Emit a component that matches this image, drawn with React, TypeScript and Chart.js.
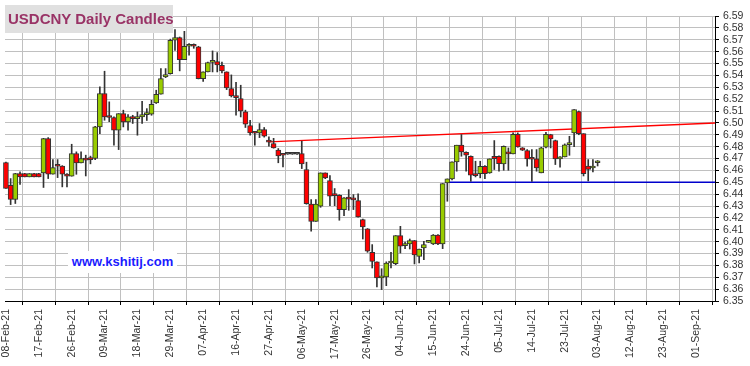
import React, { useEffect, useRef } from "react";
import { Chart, registerables } from "chart.js";

Chart.register(...registerables);

// Weekday tick labels, one every 7 trading days starting at index 0
const tickLabels = [
  "08-Feb-21", "17-Feb-21", "26-Feb-21", "09-Mar-21", "18-Mar-21", "29-Mar-21",
  "07-Apr-21", "16-Apr-21", "27-Apr-21", "06-May-21", "17-May-21", "26-May-21",
  "04-Jun-21", "15-Jun-21", "24-Jun-21", "05-Jul-21", "14-Jul-21", "23-Jul-21",
  "03-Aug-21", "12-Aug-21", "23-Aug-21", "01-Sep-21",
];
const tickEvery = 7;

const opens = [
  6.4666, 6.4475, 6.4355, 6.4573, 6.4573, 6.4545, 6.4573, 6.4573, 6.4578, 6.4868,
  6.4567, 6.4638, 6.4637, 6.4556, 6.4551, 6.4742, 6.4663, 6.4700, 6.4692, 6.4700,
  6.4966, 6.5247, 6.5050, 6.5045, 6.4938, 6.5078, 6.5008, 6.5050, 6.5036, 6.5050,
  6.5070, 6.5073, 6.5168, 6.5241, 6.5387, 6.5415, 6.5696, 6.5718, 6.5533, 6.5645,
  6.5648, 6.5640, 6.5373, 6.5429, 6.5510, 6.5516, 6.5485, 6.5429, 6.5289, 6.5221,
  6.5205, 6.5093, 6.4978, 6.4918, 6.4916, 6.4944, 6.4840, 6.4826, 6.4770, 6.4730,
  6.4736, 6.4736, 6.4736, 6.4742, 6.4607, 6.4317, 6.4171, 6.4298, 6.4579, 6.4514,
  6.4392, 6.4390, 6.4270, 6.4362, 6.4356, 6.4345, 6.4185, 6.4107, 6.3910, 6.3829,
  6.3694, 6.3702, 6.3820, 6.3815, 6.4051, 6.3966, 6.3980, 6.4008, 6.3876, 6.3947,
  6.3994, 6.3980, 6.4056, 6.3980, 6.4494, 6.4528, 6.4671, 6.4812, 6.4753, 6.4719,
  6.4559, 6.4573, 6.4635, 6.4579, 6.4719, 6.4719, 6.4654, 6.4756, 6.4739, 6.4904,
  6.4789, 6.4767, 6.4697, 6.4697, 6.4579, 6.4795, 6.4902, 6.4851, 6.4697, 6.4713,
  6.4817, 6.4915, 6.5095, 6.4909, 6.4637, 6.4620, 6.4664,
];
const highs = [
  6.4670, 6.4531, 6.4575, 6.4587, 6.4575, 6.4573, 6.4575, 6.4575, 6.4870, 6.4876,
  6.4691, 6.4691, 6.4640, 6.4573, 6.4820, 6.4756, 6.4756, 6.4728, 6.4720, 6.4970,
  6.5303, 6.5435, 6.5177, 6.5050, 6.5078, 6.5107, 6.5070, 6.5064, 6.5092, 6.5182,
  6.5120, 6.5190, 6.5275, 6.5457, 6.5457, 6.5705, 6.5785, 6.5723, 6.5771, 6.5668,
  6.5665, 6.5645, 6.5429, 6.5513, 6.5606, 6.5592, 6.5513, 6.5430, 6.5404, 6.5342,
  6.5317, 6.5107, 6.5022, 6.4924, 6.4994, 6.4961, 6.4882, 6.4870, 6.4784, 6.4733,
  6.4737, 6.4737, 6.4737, 6.4846, 6.4669, 6.4354, 6.4354, 6.4579, 6.4579, 6.4556,
  6.4447, 6.4395, 6.4370, 6.4438, 6.4396, 6.4402, 6.4190, 6.4110, 6.3975, 6.3829,
  6.3772, 6.3830, 6.3910, 6.4051, 6.4129, 6.3997, 6.4022, 6.4010, 6.3938, 6.4003,
  6.3997, 6.4060, 6.4060, 6.4489, 6.4528, 6.4671, 6.4812, 6.4902, 6.4756, 6.4722,
  6.4677, 6.4677, 6.4640, 6.4697, 6.4851, 6.4722, 6.4806, 6.4789, 6.4916, 6.4916,
  6.4792, 6.4775, 6.4775, 6.4775, 6.4795, 6.4921, 6.4904, 6.4855, 6.4716, 6.4823,
  6.4887, 6.5112, 6.5100, 6.4909, 6.4691, 6.4691, 6.4683,
];
const lows = [
  6.4447, 6.4312, 6.4321, 6.4481, 6.4545, 6.4545, 6.4545, 6.4545, 6.4456, 6.4531,
  6.4567, 6.4539, 6.4461, 6.4461, 6.4551, 6.4567, 6.4663, 6.4553, 6.4655, 6.4690,
  6.4910, 6.5022, 6.5010, 6.4812, 6.4775, 6.4966, 6.4938, 6.4995, 6.4896, 6.4995,
  6.5020, 6.5064, 6.5163, 6.5241, 6.5381, 6.5410, 6.5611, 6.5438, 6.5533, 6.5570,
  6.5628, 6.5370, 6.5350, 6.5429, 6.5429, 6.5429, 6.5421, 6.5280, 6.5218, 6.5064,
  6.5050, 6.4961, 6.4896, 6.4812, 6.4876, 6.4880, 6.4803, 6.4787, 6.4664, 6.4629,
  6.4735, 6.4735, 6.4735, 6.4615, 6.4315, 6.4087, 6.4171, 6.4289, 6.4530, 6.4303,
  6.4303, 6.4180, 6.4219, 6.4264, 6.4270, 6.4205, 6.4022, 6.3910, 6.3778, 6.3618,
  6.3596, 6.3629, 6.3778, 6.3806, 6.3904, 6.3941, 6.3938, 6.3812, 6.3820, 6.3848,
  6.3992, 6.3975, 6.3975, 6.3941, 6.4340, 6.4520, 6.4593, 6.4719, 6.4593, 6.4508,
  6.4545, 6.4537, 6.4531, 6.4575, 6.4607, 6.4593, 6.4601, 6.4601, 6.4739, 6.4795,
  6.4767, 6.4635, 6.4508, 6.4593, 6.4579, 6.4789, 6.4789, 6.4649, 6.4626, 6.4713,
  6.4727, 6.4800, 6.4900, 6.4553, 6.4511, 6.4587, 6.4637,
];
const closes = [
  6.4447, 6.4355, 6.4573, 6.4545, 6.4545, 6.4573, 6.4545, 6.4545, 6.4868, 6.4567,
  6.4623, 6.4635, 6.4567, 6.4551, 6.4742, 6.4663, 6.4700, 6.4686, 6.4690, 6.4966,
  6.5247, 6.5050, 6.5045, 6.4938, 6.5078, 6.5008, 6.5050, 6.5036, 6.5050, 6.5070,
  6.5072, 6.5157, 6.5241, 6.5373, 6.5407, 6.5696, 6.5718, 6.5533, 6.5645, 6.5648,
  6.5645, 6.5373, 6.5429, 6.5508, 6.5513, 6.5488, 6.5437, 6.5294, 6.5227, 6.5213,
  6.5101, 6.4989, 6.4916, 6.4913, 6.4944, 6.4888, 6.4838, 6.4789, 6.4722, 6.4727,
  6.4736, 6.4736, 6.4736, 6.4654, 6.4320, 6.4171, 6.4317, 6.4579, 6.4537, 6.4382,
  6.4388, 6.4270, 6.4368, 6.4358, 6.4352, 6.4208, 6.4124, 6.3919, 6.3834, 6.3694,
  6.3713, 6.3820, 6.3823, 6.4051, 6.3961, 6.3969, 6.4008, 6.3888, 6.3938, 6.3975,
  6.3995, 6.4056, 6.3980, 6.4489, 6.4528, 6.4671, 6.4812, 6.4756, 6.4728, 6.4559,
  6.4556, 6.4635, 6.4573, 6.4697, 6.4699, 6.4657, 6.4803, 6.4739, 6.4904, 6.4798,
  6.4770, 6.4697, 6.4694, 6.4621, 6.4789, 6.4904, 6.4865, 6.4697, 6.4713, 6.4815,
  6.4831, 6.5112, 6.4909, 6.4573, 6.4609, 6.4623, 6.4666,
];

// Red rising trend line and horizontal support line (x = trading-day index)
const trendX = [56, 151];
const trendY = [6.484, 6.5];
const supportX = [94, 151];
const supportY = [6.45, 6.45];

const yTicks = [
  6.35, 6.36, 6.37, 6.38, 6.39, 6.4, 6.41, 6.42, 6.43, 6.44, 6.45, 6.46, 6.47,
  6.48, 6.49, 6.5, 6.51, 6.52, 6.53, 6.54, 6.55, 6.56, 6.57, 6.58, 6.59,
];

const X_MIN = -0.2;
const X_MAX = 151;

const UP = "#99cc00";
const DOWN = "#ff0000";
const EDGE = "#333333";
const GRID = "#c0c0c0";
const FONT = "'Liberation Sans', Arial, sans-serif";

export default function App() {
  const ref = useRef<HTMLCanvasElement | null>(null);

  useEffect(() => {
    if (!ref.current) return;
    const idx = opens.map((_, i) => i);
    const bodies = idx.map((i) => ({ x: i, y: [opens[i], closes[i]] }));
    const wicks = idx.map((i) => ({ x: i, y: [lows[i], highs[i]] }));
    const fills = idx.map((i) =>
      closes[i] > opens[i] ? UP : closes[i] < opens[i] ? DOWN : EDGE
    );

    const chart = new Chart(ref.current, {
      type: "bar",
      data: {
        datasets: [
          {
            type: "bar",
            data: bodies as any,
            backgroundColor: fills,
            borderColor: EDGE,
            borderWidth: 1,
            borderSkipped: false,
            barThickness: 5,
            minBarLength: 2,
            grouped: false,
            clip: false as any,
          },
          {
            type: "bar",
            data: wicks as any,
            backgroundColor: EDGE,
            borderWidth: 0,
            barThickness: 1,
            grouped: false,
          },
          {
            type: "line",
            data: trendX.map((x, i) => ({ x, y: trendY[i] })) as any,
            borderColor: "#ff0000",
            borderWidth: 1.5,
            pointRadius: 0,
          },
          {
            type: "line",
            data: supportX.map((x, i) => ({ x, y: supportY[i] })) as any,
            borderColor: "#0000cc",
            borderWidth: 1.5,
            pointRadius: 0,
          },
        ],
      },
      options: {
        animation: false,
        responsive: false,
        maintainAspectRatio: false,
        layout: { padding: { left: 5, top: 16, right: 0, bottom: 0 } },
        plugins: { legend: { display: false }, tooltip: { enabled: false } },
        scales: {
          x: {
            type: "linear",
            min: X_MIN,
            max: X_MAX,
            offset: false,
            grid: { color: GRID, lineWidth: 1, tickColor: "#000", tickLength: 4 },
            border: { color: "#000", width: 1 },
            ticks: {
              autoSkip: false,
              maxRotation: 90,
              minRotation: 90,
              padding: 4,
              color: "#333",
              font: { family: FONT, size: 10.5 },
              callback: (v: any) => tickLabels[Math.round(Number(v) / tickEvery)] ?? "",
            },
            afterBuildTicks: (s: any) => {
              s.ticks = tickLabels.map((_, k) => ({ value: k * tickEvery }));
            },
            afterFit: (s: any) => {
              s.height = 65;
            },
          },
          y: {
            type: "linear",
            position: "right",
            min: 6.35,
            max: 6.59,
            grid: { color: GRID, lineWidth: 1, tickColor: "#000", tickLength: 4 },
            border: { color: "#000", width: 1 },
            ticks: {
              autoSkip: false,
              padding: 4,
              color: "#333",
              font: { family: FONT, size: 10.5 },
              callback: (v: any) => Number(v).toFixed(2),
            },
            afterBuildTicks: (s: any) => {
              s.ticks = yTicks.map((v) => ({ value: v }));
            },
            afterFit: (s: any) => {
              s.width = 35;
            },
          },
        },
      },
    });
    return () => chart.destroy();
  }, []);

  return (
    <div
      style={{
        position: "fixed",
        left: 0,
        top: 0,
        width: 750,
        height: 366,
        background: "#fff",
        overflow: "hidden",
      }}
    >
      <canvas
        ref={ref}
        width={750}
        height={366}
        style={{ position: "absolute", left: 0, top: 0, width: 750, height: 366 }}
      />
      <div
        style={{
          position: "absolute",
          left: 5,
          top: 5,
          width: 165,
          height: 28,
          paddingLeft: 3,
          background: "#e0e0e0",
          color: "#993366",
          fontFamily: FONT,
          fontWeight: "bold",
          fontSize: 15,
          lineHeight: "28px",
          whiteSpace: "nowrap",
        }}
      >
        USDCNY Daily Candles
      </div>
      <div
        style={{
          position: "absolute",
          left: 68,
          top: 251,
          width: 109,
          height: 22,
          background: "#fff",
          color: "#1a1aff",
          fontFamily: FONT,
          fontWeight: "bold",
          fontSize: 13,
          lineHeight: "22px",
          textAlign: "center",
          whiteSpace: "nowrap",
        }}
      >
        www.kshitij.com
      </div>
    </div>
  );
}
